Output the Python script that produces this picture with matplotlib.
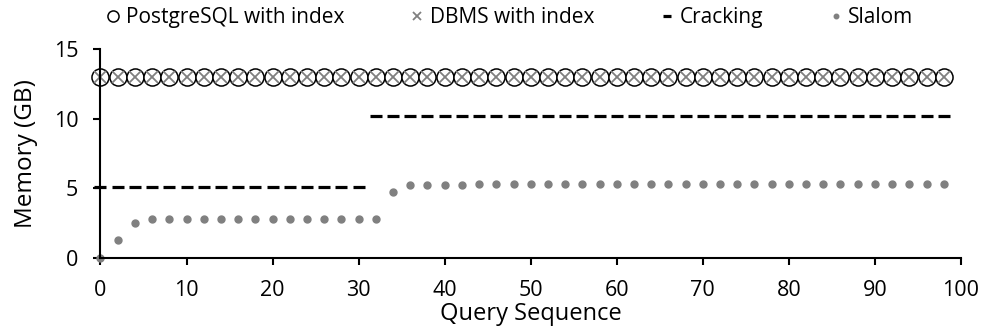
import matplotlib.pyplot as plt

plt.rcParams['font.family'] = ['Open Sans', 'DejaVu Sans']

# query numbers (every second query is plotted)
queries = [0, 2, 4, 6, 8, 10, 12, 14, 16, 18, 20, 22, 24, 26, 28, 30, 32, 34, 36, 38,
           40, 42, 44, 46, 48, 50, 52, 54, 56, 58, 60, 62, 64, 66, 68, 70, 72, 74, 76, 78,
           80, 82, 84, 86, 88, 90, 92, 94, 96, 98]

postgres = [13, 13, 13, 13, 13, 13, 13, 13, 13, 13, 13, 13, 13, 13, 13, 13, 13, 13, 13, 13,
            13, 13, 13, 13, 13, 13, 13, 13, 13, 13, 13, 13, 13, 13, 13, 13, 13, 13, 13, 13,
            13, 13, 13, 13, 13, 13, 13, 13, 13, 13]
dbms = [13, 13, 13, 13, 13, 13, 13, 13, 13, 13, 13, 13, 13, 13, 13, 13, 13, 13, 13, 13,
        13, 13, 13, 13, 13, 13, 13, 13, 13, 13, 13, 13, 13, 13, 13, 13, 13, 13, 13, 13,
        13, 13, 13, 13, 13, 13, 13, 13, 13, 13]
cracking = [5.1, 5.1, 5.1, 5.1, 5.1, 5.1, 5.1, 5.1, 5.1, 5.1, 5.1, 5.1, 5.1, 5.1, 5.1, 5.1,
            10.2, 10.2, 10.2, 10.2, 10.2, 10.2, 10.2, 10.2, 10.2, 10.2, 10.2, 10.2, 10.2, 10.2,
            10.2, 10.2, 10.2, 10.2, 10.2, 10.2, 10.2, 10.2, 10.2, 10.2, 10.2, 10.2, 10.2, 10.2,
            10.2, 10.2, 10.2, 10.2, 10.2, 10.2]
slalom = [0, 1.3, 2.5, 2.75, 2.75, 2.75, 2.75, 2.75, 2.75, 2.75, 2.75, 2.75, 2.75, 2.75,
          2.75, 2.75, 2.75, 4.75, 5.2, 5.25, 5.25, 5.25, 5.3, 5.3, 5.3, 5.3, 5.3, 5.3, 5.3,
          5.3, 5.3, 5.3, 5.3, 5.3, 5.3, 5.3, 5.3, 5.3, 5.3, 5.3, 5.3, 5.3, 5.3, 5.3, 5.3,
          5.3, 5.3, 5.3, 5.3, 5.3]

fig = plt.figure(figsize=(9.85, 3.29), dpi=100)
ax = fig.add_axes([0.102, 0.217, 0.8736, 0.634])

ax.plot(queries, postgres, ls='none', marker='o', ms=12.3, mfc='white', mec='black',
        mew=1.1, label='PostgreSQL with index', clip_on=False)
ax.plot(queries, dbms, ls='none', marker='x', ms=8.5, mec='#808080', mew=1.3,
        label='DBMS with index', clip_on=False)
ax.plot(queries, cracking, ls='none', marker='_', ms=8, mec='black', mew=2.3,
        label='Cracking', clip_on=False)
ax.plot(queries, slalom, ls='none', marker='o', ms=5, mfc='#808080', mec='#808080',
        label='Slalom', clip_on=False)

ax.set_xlim(0, 100)
ax.set_ylim(0, 15)
ax.set_xticks([0, 10, 20, 30, 40, 50, 60, 70, 80, 90, 100])
ax.set_yticks([0, 5, 10, 15])
ax.spines['top'].set_visible(False)
ax.spines['right'].set_visible(False)
ax.spines['left'].set_linewidth(1.5)
ax.spines['bottom'].set_linewidth(1.5)
ax.tick_params(width=1.5, length=5, labelsize=15.5)
ax.tick_params(axis='x', pad=11)
ax.tick_params(axis='y', pad=11)
ax.set_xlabel('Query Sequence', fontsize=17, labelpad=1)
ax.set_ylabel('Memory (GB)', fontsize=17.5, labelpad=11)

fig.legend(loc='upper center', bbox_to_anchor=(0.518, 1.035), ncol=4, frameon=False,
           fontsize=15, markerscale=0.65, handlelength=0.6, handletextpad=0.3,
           columnspacing=3.2)

fig.savefig('out.png', dpi=100)
